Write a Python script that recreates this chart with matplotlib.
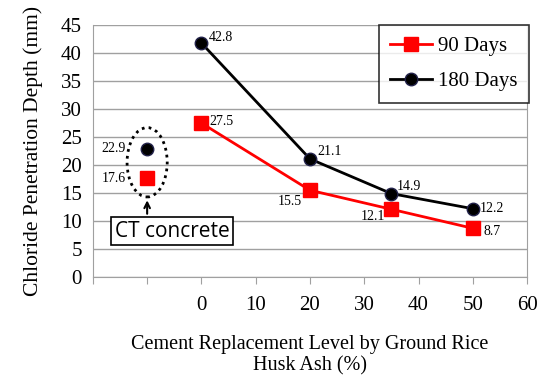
import matplotlib.pyplot as plt
from matplotlib.patches import Ellipse

levels = [0, 20, 35, 50]
d90 = [27.5, 15.5, 12.1, 8.7]
d180 = [41.8, 21.1, 14.9, 12.2]
lab90 = ['27.5', '15.5', '12.1', '8.7']
lab180 = ['42.8', '21.1', '14.9', '12.2']
ct_x = -10
ct90 = 17.6
ct180 = 22.9
xticks = [-20, -10, 0, 10, 20, 30, 40, 50, 60]
xticklabels = ['', '', '0', '10', '20', '30', '40', '50', '60']

plt.rcParams['font.family'] = ['Liberation Serif', 'DejaVu Serif']

fig = plt.figure(figsize=(5.4, 3.81), dpi=100)
ax = fig.add_axes([0.172, 0.273, 0.804, 0.661])

ax.plot(levels, d90, color='#ff0000', lw=2, marker='s', ms=10, mec='#ff0000', label='90 Days', zorder=3)
ax.plot(levels, d180, color='black', lw=2, marker='o', ms=9, mec='#22224a', label='180 Days', zorder=4)
ax.plot([ct_x], [ct90], ls='none', marker='s', ms=10, color='#ff0000', zorder=3)
ax.plot([ct_x], [ct180], ls='none', marker='o', ms=9, color='black', mec='#22224a', zorder=4)

# value labels
offs90 = [(6, 1), (-23, -8), (-22, -5), (8, -2)]
offs180 = [(5, 4), (5, 5), (4, 5), (5, 0)]
for x, y, t, o in zip(levels, d90, lab90, offs90):
    ax.annotate(t, (x, y), xytext=o, textcoords='offset points', fontsize=10, va='center')
for x, y, t, o in zip(levels, d180, lab180, offs180):
    ax.annotate(t, (x, y), xytext=o, textcoords='offset points', fontsize=10, va='center')
ax.annotate('17.6', (ct_x, ct90), xytext=(-33, 0), textcoords='offset points', fontsize=10, va='center')
ax.annotate('22.9', (ct_x, ct180), xytext=(-33, 0), textcoords='offset points', fontsize=10, va='center')

ax.add_patch(Ellipse((ct_x, 20.5), 7.4, 12.4, fill=False, ls=(0, (1, 1.5)), lw=2, color='black', zorder=5))
ax.annotate('', xy=(ct_x, 14.2), xytext=(ct_x, 10.8),
            arrowprops=dict(arrowstyle='->', color='black', lw=1.5))
ax.text(-5.4, 8.2, 'CT concrete', ha='center', va='center', fontsize=15,
        family=['Open Sans', 'DejaVu Sans'],
        bbox=dict(boxstyle='square,pad=0.18', fc='white', ec='black', lw=1.2))

ax.set_xlim(-20, 60)
ax.set_ylim(0, 45)
ax.set_xticks(xticks)
ax.set_xticklabels(xticklabels)
ax.set_yticks(range(0, 46, 5))
ax.tick_params(axis='x', length=5, color='#a0a0a0', labelsize=15, pad=9)
ax.tick_params(axis='y', length=0, labelsize=15, pad=8)
ax.grid(axis='y', color='#a0a0a0', lw=1)
ax.set_axisbelow(True)
for s in ['left', 'right', 'bottom', 'top']:
    ax.spines[s].set_color('#a0a0a0')
ax.spines['top'].set_visible(False)

ax.set_ylabel('Chloride Penetration Depth (mm)', fontsize=15.5, labelpad=13)
ax.set_xlabel('Cement Replacement Level by Ground Rice\nHusk Ash (%)', fontsize=14.5, labelpad=14, linespacing=1.15)

leg = ax.legend(loc='upper right', bbox_to_anchor=(1.005, 1.0), borderaxespad=0, fontsize=15, frameon=True,
                fancybox=False, edgecolor='black', handlelength=2.0, borderpad=0.55, labelspacing=0.75,
                handletextpad=0.3)
leg.get_frame().set_linewidth(1.2)

fig.savefig('out.png', dpi=100)
